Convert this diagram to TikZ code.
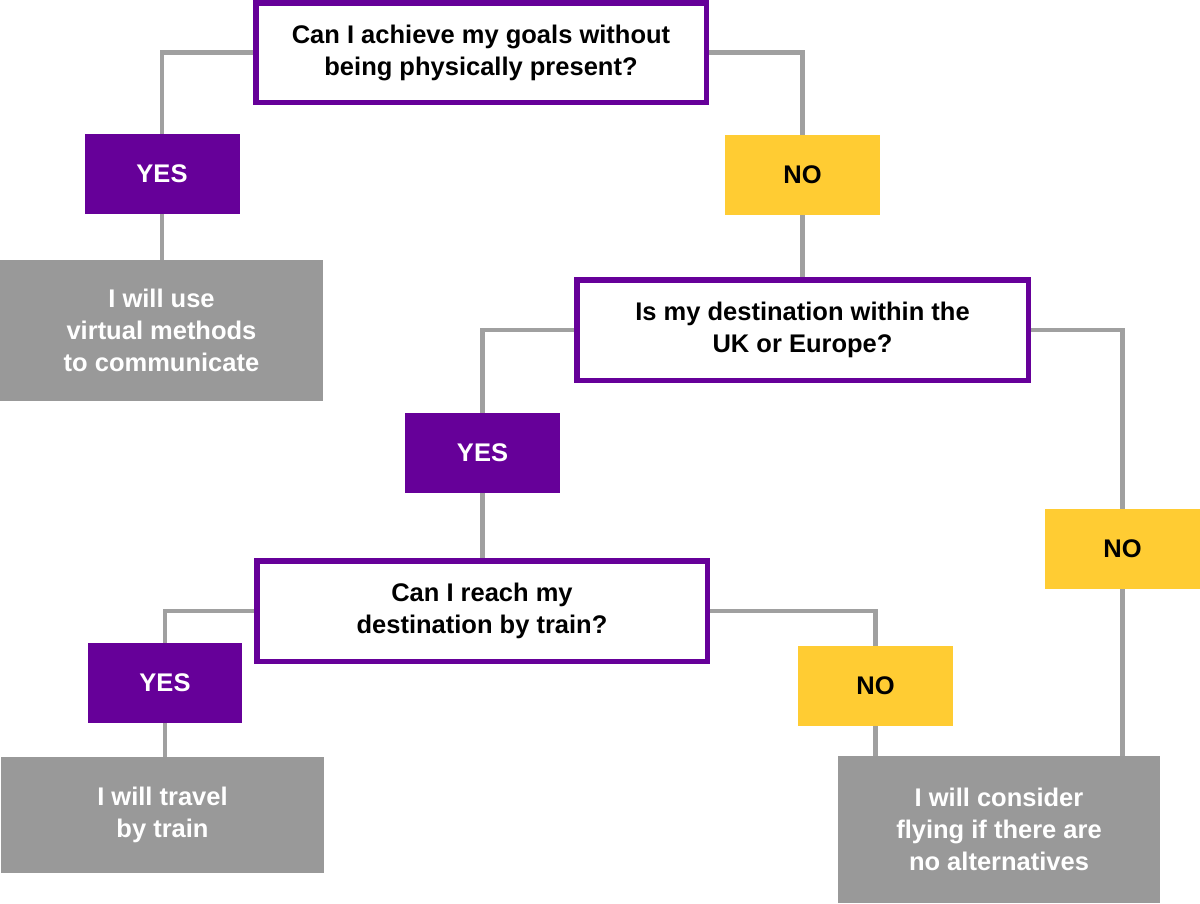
\documentclass[tikz,border=0pt]{standalone}
\usepackage{fontspec}
\setmainfont{Liberation Sans}
\usetikzlibrary{backgrounds}
\definecolor{purp}{RGB}{102,0,153}
\definecolor{yel}{RGB}{255,204,51}
\definecolor{boxgray}{RGB}{153,153,153}
\definecolor{linegray}{RGB}{160,160,160}
\tikzset{
  base/.style={inner sep=0pt, outer sep=0pt, align=center, font=\fontsize{25.5}{32}\selectfont\bfseries},
  qbox/.style={base, draw=purp, line width=5.5pt, fill=white, text=black},
  yesbox/.style={base, fill=purp, text=white, minimum width=155pt, minimum height=80pt},
  nobox/.style={base, fill=yel, text=black, minimum width=155pt, minimum height=80pt},
  resbox/.style={base, fill=boxgray, text=white},
  conn/.style={draw=linegray, line width=4.5pt}
}
\begin{document}
\begin{tikzpicture}[x=1pt,y=-1pt]
\useasboundingbox (0,0) rectangle (1200,903);
% question boxes
\node[qbox, minimum width=450.5pt, minimum height=99.5pt] (q1) at (481,52.5) {Can I achieve my goals without\\being physically present?};
\node[qbox, minimum width=451.5pt, minimum height=100.5pt] (q2) at (802.5,330) {Is my destination within the\\UK or Europe?};
\node[qbox, minimum width=450.5pt, minimum height=100.5pt] (q3) at (482,611) {Can I reach my\\destination by train?};
% yes / no boxes
\node[yesbox] (yes1) at (162,174) {YES};
\node[nobox] (no1) at (802.5,175) {NO};
\node[yesbox] (yes2) at (482.5,453) {YES};
\node[nobox] (no2) at (1122.5,549) {NO};
\node[yesbox, minimum width=154pt] (yes3) at (165,683) {YES};
\node[nobox] (no3) at (875.5,686) {NO};
% result boxes
\node[resbox, minimum width=323pt, minimum height=141pt] (res1) at (161.5,330.5) {I will use\\virtual methods\\to communicate};
\node[resbox, minimum width=323pt, minimum height=116pt] (res2) at (162.5,815) {I will travel\\by train};
\node[resbox, minimum width=322pt, minimum height=147pt] (res3) at (999,829.5) {I will consider\\flying if there are\\no alternatives};
\begin{pgfonlayer}{background}
\fill[white] (0,0) rectangle (1200,903);
\draw[conn] (q1.west) -| (yes1.north);
\draw[conn] (yes1.south) -- (yes1.south |- res1.north);
\draw[conn] (q1.east) -| (no1.north);
\draw[conn] (no1.south) -- (q2.north);
\draw[conn] (q2.west) -| (yes2.north);
\draw[conn] (yes2.south) -- (yes2.south |- q3.north);
\draw[conn] (q2.east) -| (no2.north);
\draw[conn] (no2.south) -- (no2.south |- res3.north);
\draw[conn] (q3.west) -| (yes3.north);
\draw[conn] (yes3.south) -- (yes3.south |- res2.north);
\draw[conn] (q3.east) -| (no3.north);
\draw[conn] (no3.south) -- (no3.south |- res3.north);
\end{pgfonlayer}
\end{tikzpicture}
\end{document}
